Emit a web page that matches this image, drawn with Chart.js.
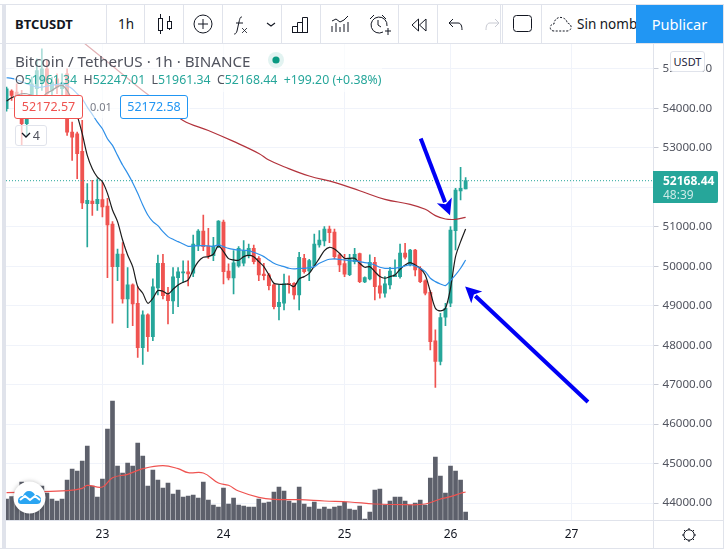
<!DOCTYPE html>
<html><head><meta charset="utf-8">
<script src="https://cdn.jsdelivr.net/npm/chart.js@4"></script>
<style>
html,body{margin:0;padding:0;background:#fff;overflow:hidden}
#wrap{position:relative;width:724px;height:549px;font-family:"Noto Sans",sans-serif;overflow:hidden}
canvas{position:absolute;left:0;top:0}
.a{position:absolute;white-space:nowrap}
.v{position:absolute;width:1px;background:#e0e3eb}
.h{position:absolute;height:1px;background:#e0e3eb}
.box{position:absolute;background:#fff;border-radius:3px;box-sizing:border-box;text-align:center}
svg{position:absolute;overflow:visible}
</style></head><body><div id="wrap">
<canvas id="c" width="724" height="549"></canvas>

<div class="a" style="left:14px;top:44px;width:176px;height:74px;background:rgba(255,255,255,.62)"></div>
<div class="a" style="left:190px;top:44px;width:192px;height:48px;background:rgba(255,255,255,.62)"></div>
<div class="a" style="left:15px;top:51px;font-size:15.2px;line-height:20px;color:#50535e">Bitcoin / TetherUS · 1h · BINANCE</div>
<svg style="left:268px;top:52px" width="16" height="16"><circle cx="8" cy="8" r="8" fill="#e2f3f1"/><circle cx="8" cy="8" r="3.6" fill="#089981"/></svg>
<div class="a" style="left:15px;top:71px;font-size:12.3px;line-height:18px;color:#26a69a"><span style="color:#50535e">O</span>51961.34 <span style="color:#50535e">&nbsp;H</span>52247.01 <span style="color:#50535e">&nbsp;L</span>51961.34 <span style="color:#50535e">&nbsp;C</span>52168.44 &nbsp;+199.20 (+0.38%)</div>
<div class="box" style="left:14px;top:95px;width:69px;height:24px;border:1px solid #ef5350;color:#ef5350;font-size:12.5px;line-height:22px">52172.57</div>
<div class="a" style="left:90px;top:98px;font-size:11px;line-height:18px;color:#787b86">0.01</div>
<div class="box" style="left:120px;top:95px;width:68px;height:24px;border:1px solid #2196f3;color:#2196f3;font-size:12.5px;line-height:22px">52172.58</div>
<div class="box" style="left:15px;top:125px;width:32px;height:21px;border:1px solid #e0e3eb;background:rgba(255,255,255,.7);color:#50535e;font-size:12.5px;line-height:19px;text-align:right;padding-right:6px">4</div>
<svg style="left:21px;top:132px" width="10" height="6"><path d="M1 1l4 4 4-4" fill="none" stroke="#131722" stroke-width="1.3"/></svg>

<div class="v" style="left:653px;top:43px;height:506px"></div>
<div class="h" style="left:653px;top:520px;width:71px"></div>
<div class="box" style="left:670px;top:51px;width:35px;height:21px;border:1px solid #e0e3eb;color:#1e1e3c;font-size:11px;line-height:19px">USDT</div>
<div class="a" style="left:653px;top:171px;width:65px;height:32px;background:#26a69a;border-radius:0 2px 2px 0"></div>
<div class="a" style="left:663px;top:172px;font-size:12px;font-weight:700;line-height:17px;color:#fff">52168.44</div>
<div class="a" style="left:663px;top:187px;font-size:12px;line-height:15px;color:#cdeae7">48:39</div>
<svg style="left:681px;top:527px" width="16" height="16" fill="none" stroke="#131722" stroke-width="1"><circle cx="8" cy="8" r="5.2"/><path d="M8 1v2M8 13v2M1 8h2M13 8h2M3 3l1.5 1.5M11.5 11.5L13 13M3 13l1.5-1.5M11.5 4.5L13 3"/></svg>

<svg style="left:13px;top:481px;filter:drop-shadow(0 0 2px rgba(0,0,0,.25))" width="33" height="33"><circle cx="16.5" cy="16.5" r="16" fill="#fff"/><path d="M5 20c0-3 2-5 5-5 1-3 3-5 6-5s5 2 6 4c4 0 6 2 6 5 0 3-2 4-4 4H8c-2 0-3-1-3-3z" fill="#2aa5f2"/><path d="M7 19l5-4 5 4 5-4 5 4" fill="none" stroke="#fff" stroke-width="2"/></svg>

<div class="a" style="left:0;top:4px;width:724px;height:39px;background:#fff"></div>
<div class="h" style="left:0;top:4px;width:724px"></div>
<div class="h" style="left:0;top:43px;width:724px"></div>
<div class="a" style="left:2px;top:4px;width:4px;height:545px;background:#e0e3eb"></div>
<div class="h" style="left:0;top:548px;width:724px"></div>
<div class="v" style="left:723px;top:4px;height:545px"></div>
<div class="v" style="left:106px;top:5px;height:38px"></div><div class="v" style="left:144px;top:5px;height:38px"></div><div class="v" style="left:183px;top:5px;height:38px"></div><div class="v" style="left:222px;top:5px;height:38px"></div><div class="v" style="left:281px;top:5px;height:38px"></div><div class="v" style="left:320px;top:5px;height:38px"></div><div class="v" style="left:398px;top:5px;height:38px"></div><div class="v" style="left:437px;top:5px;height:38px"></div><div class="v" style="left:500px;top:5px;height:38px"></div><div class="v" style="left:502px;top:5px;height:38px"></div><div class="v" style="left:541px;top:5px;height:38px"></div>
<div class="a" style="left:15px;top:14px;font-size:13px;font-weight:700;line-height:20px;color:#131722">BTCUSDT</div>
<div class="a" style="left:118px;top:14px;font-size:13.5px;line-height:20px;color:#131722">1h</div>
<svg style="left:156px;top:14px" width="18" height="21" fill="none" stroke="#131722"><rect x="2.5" y="4.5" width="4" height="12"/><path d="M4.5 0v4M4.5 17v3M13.5 2v6M13.5 16v-2"/><rect x="11.5" y="7.5" width="4" height="7"/></svg>
<svg style="left:193px;top:14px" width="20" height="20" fill="none" stroke="#131722"><circle cx="10" cy="10" r="9"/><path d="M10 5v10M5 10h10"/></svg>
<svg style="left:234px;top:14px" width="46" height="22" fill="none" stroke="#131722"><path d="M8 3c-2 0-2 1-3 5l-2 9c-1 3-2 3-3 3M2 9h7"/><path d="M8 14l5 5M13 14l-5 5" stroke-width=".8"/><path d="M33 9l4 3 4-3" stroke-width="1.1"/></svg>
<svg style="left:292px;top:17px" width="18" height="16" fill="none" stroke="#131722"><path d="M.5 15.5V9.5h5v6M5.5 15.5V5.5h5v10M10.5 15.5V.5h5v15M0 15.5h16"/></svg>
<svg style="left:331px;top:15px" width="18" height="18" fill="none" stroke="#131722"><path d="M1 6l4-2 4 3 4-2 4-4"/><path d="M1 11v6M5 8v9M9 12v5M13 9v8M17 7v10"/></svg>
<svg style="left:369px;top:14px" width="22" height="22" fill="none" stroke="#131722"><path d="M14 18a8 8 0 1 1 4-6M9 6v5l3 2M1 5l4-4M13 1l4 4M16 17h6M19 14v7"/></svg>
<svg style="left:411px;top:18px" width="16" height="14" fill="none" stroke="#131722"><path d="M7.5 1L1 7l6.5 6zM15 1L8.500 7l6.500 6z"/></svg>
<svg style="left:448px;top:18px" width="52" height="14" fill="none"><path d="M5 1L1 5l4 4M1 5h9c3 0 4 3 4 7" stroke="#131722"/><path d="M47 1l4 4-4 4M51 5h-9c-3 0-4 3-4 7" stroke="#c8cad2"/></svg>
<svg style="left:513px;top:15px" width="20" height="20" fill="none" stroke="#131722"><rect x=".5" y=".5" width="18" height="16" rx="3"/></svg>
<svg style="left:549px;top:15px" width="24" height="18" fill="none" stroke="#131722" stroke-dasharray="2 1.5"><path d="M5 16c-5 0-5-7 0-7 0-5 5-8 9-6 3 1 4 3 4 5 6 1 5 8 0 8z"/></svg>
<div class="a" style="left:577px;top:14px;font-size:13.500px;line-height:20px;color:#131722">Sin nombre</div>
<div class="a" style="left:636px;top:5px;width:87px;height:38px;background:#2196f3;color:#fff;font-size:14.6px;line-height:38px;text-align:center">Publicar</div>
</div>
<script>
const dayLabels = ['23','24','25','26','27'];
const dayIndex = [19,43,67,88,112];
const priceTicks = [55000,54000,53000,52000,51000,50000,49000,48000,47000,46000,45000,44000];
const opens = [53992,54439,54414,53739,53612,54245,54498,54625,55005,54456,54751,54498,54878,53401,53359,52911,51586,51654,51586,51688,
51527,51072,49991,50312,49172,49527,49063,47940,48767,48219,49451,50076,49274,49122,49713,49831,49856,49822,50514,50894,50514,50270,50481,51122,49881,49704,50008,
50076,50286,50456,50202,49805,49780,49527,48978,49063,49569,49569,49274,50202,49881,50008,50540,50641,50945,50869,50287,50067,49789,50118,50320,49603,49679,50101,49502,49316,49527,49738,49738,50337,50033,50413,49949,49628,49341,48109,47586,48708,49063,50903,51907,51961.34];
const closes = [54498,54329,54287,53612,53739,54625,54962,55005,54372,54667,54540,54625,53401,53274,52852,51603,51671,51586,51696,51502,
51046,49991,50312,49172,49527,49046,47940,48767,48219,49476,50076,49257,49130,49730,49856,49856,49805,50565,50894,50498,50270,50514,51147,49865,49704,50084,50455,
50396,50456,50118,49780,49763,49510,48978,49088,49552,49544,49274,50227,49865,50143,50565,50666,50945,50852,50245,50033,49797,50202,50303,49611,49713,50101,49485,49316,49552,49881,49780,50337,50228,50413,49907,49611,49316,48092,47586,48700,48936,50920,51932,51975,52168.44];
const highs = [54540,54473,54625,54456,54287,54794,55258,55511,55216,54794,54878,54878,55005,53654,53401,53696,52093,52177,52219,52135,
51721,51131,50438,50599,49966,49552,49485,48869,48793,49679,50286,50303,49468,49966,49966,50135,50135,50793,50928,51299,50962,50734,51160,51173,50059,50396,50500,
50650,50565,50540,50245,50076,49822,49552,49544,49805,49755,49586,50354,50303,50177,50818,50903,51004,51021,50945,50329,50303,50303,50456,50337,49730,50287,50228,49924,49738,49974,50160,50565,50582,50430,50430,49991,49654,49383,48388,48810,49063,51004,51975,52506,52247.01];
const lows = [53933,54203,54034,53063,53317,54118,54287,54456,54329,54287,54372,54287,53317,52684,52219,51460,50489,51291,51418,51249,
49713,48556,49637,49063,48447,48497,47687,47510,47839,48117,49274,49172,48539,48801,48978,49586,49502,49738,50396,50396,50202,50143,50472,49552,49654,49299,49974,
50008,50210,50059,49637,49654,49400,48919,48641,48894,49316,49164,48894,49822,49637,49974,50481,50514,50599,50185,49865,49738,49763,50059,49586,49586,49654,49147,49189,49215,49426,49738,49696,50185,50008,49755,49586,49274,47881,46932,47502,48497,48979,50413,51679,51961.34];
const volumes = [210,233,270,380,330,300,330,340,270,210,190,210,400,510,490,590,740,340,230,410,910,1190,540,470,570,540,770,640,340,500,400,320,370,260,300,230,240,250,220,380,200,150,130,320,160,220,150,
140,130,130,210,170,180,280,330,290,190,170,330,160,130,180,110,130,110,130,140,180,110,100,140,10,80,300,310,150,190,230,230,190,150,170,200,150,420,630,440,270,540,490,400,80];
const maFast = [54186,54270,54329,54372,54372,54329,54287,54287,54388,54456,54540,54583,54456,54203,53823,53359,52810,52473,52262,52143,51848,51426,51131,50666,50287,49991,49485,49316,49063,49189,49384,49367,49299,49417,49527,49595,49654,49907,50118,50228,50244,50304,50515,50371,50194,50160,50152,50244,50278,50244,50118,49991,49780,49569,49544,49544,49544,49485,49679,49738,49822,50008,50202,50396,50481,50439,50329,50202,50202,50202,50076,49974,49991,49865,49738,49696,49738,49780,49924,50033,50092,50033,49949,49780,49358,48936,48869,48936,49443,50244,50624,50945];
const maMid = [54777,54760,54726,54675,54625,54583,54540,54540,54566,54583,54608,54625,54574,54498,54372,54245,54034,53848,53654,53485,53232,53063,52810,52565,52354,52118,51848,51553,51299,51131,51029,50877,50751,50683,50624,50565,50506,50515,50523,50523,50515,50506,50540,50498,50455,50430,50413,50405,50396,50354,50304,50244,50160,50076,50025,49991,49949,49932,49949,49949,49966,49991,50076,50135,50177,50185,50177,50160,50143,50135,50118,50092,50076,50033,49974,49949,49949,49949,49974,50008,50042,50008,49949,49865,49696,49611,49552,49510,49637,49780,49949,50160];
const maSlowIdx = [15,20,25,28,35,40,45,50,52,55,60,65,70,75,80,83,85,87,89,91];
const maSlow = [55694,55180,54657,54353,53695,53442,53164,52860,52692,52523,52287,52127,51915,51696,51570,51443,51283,51198,51190,51240];
const volMaIdx = [0,5,12,15,16,19,21,24,27,31,34,36,39,42,44,46,50,53,58,63,68,73,79,83,86,88,90,91];
const volMa = [273,280,293,317,347,330,423,457,513,543,513,473,470,370,347,290,227,207,203,190,180,160,153,160,210,233,267,280];
const lastPrice = 52168.44;
const arrowFrom = [[82.1,53240],[115.25,46560]];
const arrowTo = [[87.9,51290],[90.9,49490]];

const GREEN='#26a69a', RED='#ef5350';
const idx = opens.map((_,i)=>i);
const col = idx.map(i=>closes[i]>=opens[i]?GREEN:RED);
const XMIN=-0.11, XMAX=128.24;
const line=(data,color,extra)=>Object.assign({type:'line',data,borderColor:color,borderWidth:1.2,pointRadius:0,tension:.3,yAxisID:'y',order:1,fill:false},extra||{});

const arrowPlugin={id:'arrows',afterDatasetsDraw(ch){
  const c=ch.ctx,x=ch.scales.x,y=ch.scales.y;
  c.save();c.fillStyle=c.strokeStyle='#0000f5';
  arrowFrom.forEach((f,k)=>{
    const t=arrowTo[k],x0=x.getPixelForValue(f[0]),y0=y.getPixelForValue(f[1]),x1=x.getPixelForValue(t[0]),y1=y.getPixelForValue(t[1]);
    const a=Math.atan2(y1-y0,x1-x0),L=14,W=8;
    const bx=x1-L*Math.cos(a),by=y1-L*Math.sin(a);
    c.lineWidth=4;c.beginPath();c.moveTo(x0,y0);c.lineTo(bx,by);c.stroke();
    c.beginPath();c.moveTo(x1,y1);
    c.lineTo(bx-W*Math.sin(a)-2*Math.cos(a),by+W*Math.cos(a)-2*Math.sin(a));
    c.lineTo(bx+2*Math.cos(a),by+2*Math.sin(a));
    c.lineTo(bx+W*Math.sin(a)-2*Math.cos(a),by-W*Math.cos(a)-2*Math.sin(a));
    c.closePath();c.fill();
  });
  c.restore();
}};

new Chart(document.getElementById('c'),{
  type:'bar',
  plugins:[arrowPlugin],
  data:{datasets:[
    {data:idx.map(i=>({x:i,y:volumes[i]})),yAxisID:'vol',backgroundColor:'#5d606b',barThickness:4,grouped:false,order:6,borderWidth:0},
    line(volMaIdx.map((v,i)=>({x:v,y:volMa[i]})),'#ef5350',{yAxisID:'vol',order:5,tension:.4}),
    {data:idx.map(i=>({x:i,y:[lows[i],highs[i]]})),yAxisID:'y',backgroundColor:col,barThickness:1,grouped:false,order:4,borderWidth:0},
    {data:idx.map(i=>({x:i,y:[opens[i],closes[i]]})),yAxisID:'y',backgroundColor:col,barThickness:3.2,grouped:false,order:3,borderWidth:0,minBarLength:1},
    line(maSlowIdx.map((v,i)=>({x:v,y:maSlow[i]})),'#b2333c',{tension:.4}),
    line(idx.map(i=>({x:i,y:maMid[i]})),'#2e8fe8'),
    line(idx.map(i=>({x:i,y:maFast[i]})),'#1c1c1c'),
    line([{x:XMIN,y:lastPrice},{x:XMAX,y:lastPrice}],GREEN,{borderDash:[1,2],borderWidth:1,tension:0,order:2})
  ]},
  options:{
    responsive:false,animation:false,devicePixelRatio:1,
    layout:{padding:{left:6,top:43,right:0,bottom:0}},
    plugins:{legend:{display:false},tooltip:{enabled:false}},
    scales:{
      x:{type:'linear',min:XMIN,max:XMAX,offset:false,
        afterBuildTicks(s){s.ticks=dayIndex.map(v=>({value:v}));},
        afterFit(s){s.height=29;},
        ticks:{autoSkip:false,maxRotation:0,padding:7,color:'#131722',font:{family:'"Noto Sans"',size:12},
          callback:v=>dayLabels[dayIndex.indexOf(v)]},
        grid:{color:'#f0f3fa',drawTicks:false,offset:false},
        border:{color:'#e0e3eb'}},
      y:{position:'right',min:43570,max:55658,
        afterBuildTicks(s){s.ticks=priceTicks.map(v=>({value:v}));},
        afterFit(s){s.width=70.5;},
        ticks:{padding:4,color:'#50535e',font:{family:'"Noto Sans"',size:11.6},callback:v=>v.toFixed(2)},
        grid:{color:'#f0f3fa',tickLength:5,tickColor:'#c9ccd6'},
        border:{display:false}},
      vol:{display:false,min:0,max:4770}
    }
  }
});
</script></body></html>
